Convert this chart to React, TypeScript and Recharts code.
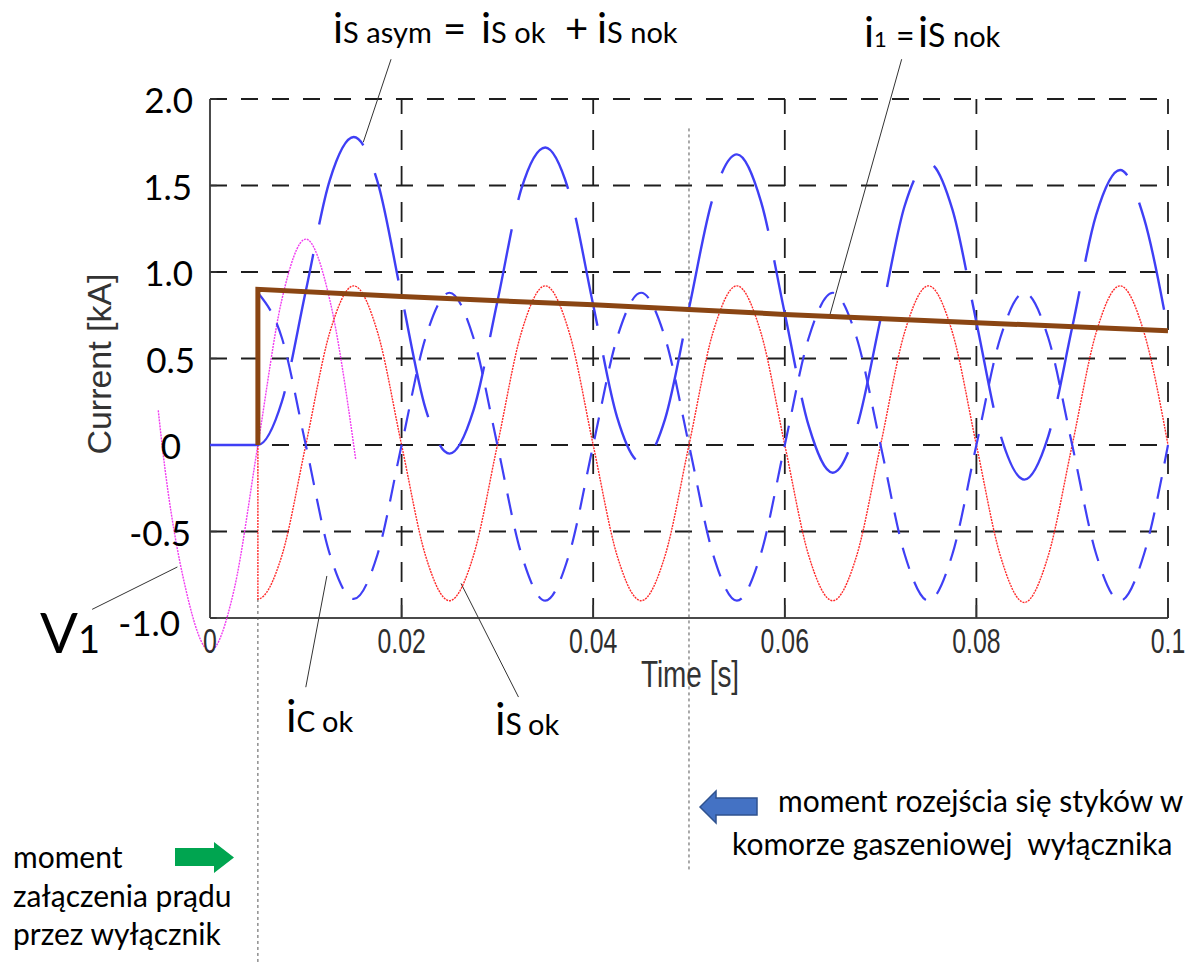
import { LineChart, Line, XAxis, YAxis, ReferenceLine } from 'recharts';

// time base (s) for the sampled current curves
const T = [
  0, 0.0025, 0.005, 0.0075, 0.01, 0.0125, 0.015, 0.0175, 0.02, 0.0225,
  0.025, 0.0275, 0.03, 0.0325, 0.035, 0.0375, 0.04, 0.0425, 0.045, 0.0475,
  0.05, 0.0525, 0.055, 0.0575, 0.06, 0.0625, 0.065, 0.0675, 0.07, 0.0725,
  0.075, 0.0775, 0.08, 0.0825, 0.085, 0.0875, 0.09, 0.0925, 0.095, 0.0975, 0.1,
];

// iS asym = iS ok + iS nok (kA), on T
const IS_ASYM = [
  0, 0, 0, 0.25, 0.89, 1.53, 1.78, 1.52, 0.86, 0.21,
  -0.05, 0.2, 0.83, 1.48, 1.72, 1.46, 0.81, 0.16, -0.1, 0.15,
  0.79, 1.43, 1.68, 1.41, 0.76, 0.11, -0.16, 0.1, 0.73, 1.38,
  1.63, 1.36, 0.71, 0.06, -0.2, 0.05, 0.68, 1.33, 1.59, 1.31, 0.66,
];

// iS ok (kA), on T from 0.005 s on
const IS_OK = [
  -0.89, -0.64, 0, 0.65, 0.92, 0.65, 0, -0.64,
  -0.9, -0.64, 0, 0.65, 0.92, 0.65, 0, -0.64,
  -0.9, -0.64, 0, 0.65, 0.92, 0.65, 0, -0.64,
  -0.9, -0.64, 0, 0.65, 0.92, 0.65, 0, -0.64,
  -0.91, -0.64, 0, 0.65, 0.92, 0.65, 0,
];

// iC ok (kA), on T from 0.005 s on
const IC_OK = [
  0.88, 0.62, 0, -0.63, -0.89, -0.63, 0, 0.62,
  0.88, 0.62, 0, -0.63, -0.9, -0.63, 0, 0.62,
  0.88, 0.62, 0, -0.63, -0.9, -0.63, 0, 0.62,
  0.88, 0.62, 0, -0.63, -0.9, -0.63, 0, 0.62,
  0.88, 0.62, 0, -0.63, -0.9, -0.63, 0,
];

// i1 = iS nok, the decaying DC part
const IS_NOK_T = [0.005, 0.005, 0.02, 0.04, 0.06, 0.08, 0.1];
const IS_NOK = [0, 0.9, 0.858, 0.81, 0.755, 0.707, 0.66];

// source voltage V1 (scaled)
const V1_T = [-0.0054, -0.005, -0.0025, 0, 0.0025, 0.005, 0.0075, 0.01, 0.0125, 0.015, 0.0152];
const V1 = [0.2, 0, -0.84, -1.19, -0.84, 0, 0.84, 1.19, 0.84, 0, -0.08];

const X_TICKS = [0, 0.02, 0.04, 0.06, 0.08, 0.1];
const X_TICK_LABELS = ['0', '0.02', '0.04', '0.06', '0.08', '0.1'];
const Y_TICKS = [2, 1.5, 1, 0.5, 0, -0.5, -1];
const Y_TICK_LABELS = ['2.0', '1.5', '1.0', '0.5', '0', '-0.5', '-1.0'];
const H_GRID = [2, 1.5, 1, 0.5, 0, -0.5];
const V_GRID = [0.02, 0.04, 0.06, 0.08, 0.1];

const SWITCH_ON = 0.005;
const CONTACTS_OPEN = 0.05;

const asymData = T.map((t, i) => ({ t, v: IS_ASYM[i] }));
const okData = T.slice(2).map((t, i) => ({ t, v: IS_OK[i] }));
okData.unshift({ t: SWITCH_ON, v: 0 });
const icData = T.slice(2).map((t, i) => ({ t, v: IC_OK[i] }));
const nokData = IS_NOK_T.map((t, i) => ({ t, v: IS_NOK[i] }));
const v1Data = V1_T.map((t, i) => ({ t, v: V1[i] }));

const W = 1197;
const H = 962;
const PLOT_BOTTOM = 652.6;
const CALIBRI = "Lato, 'Open Sans', sans-serif";
const MATLAB = "'Liberation Sans', Arial, sans-serif";

// right edge of each y label (they were placed by hand in the source)
const Y_LABEL_RIGHT: Record<string, number> = {
  '2': 193, '1.5': 192, '1': 193, '0.5': 195, '0': 181, '-0.5': 191, '-1': 180,
};

function XTick(props: any) {
  const { x, payload } = props;
  const label = X_TICK_LABELS[X_TICKS.indexOf(payload.value)];
  return (
    <g transform={`translate(${x},${PLOT_BOTTOM}) scale(0.71,1)`}>
      <text x={0} y={0} textAnchor="middle" fontFamily={MATLAB} fontSize={35} fill="#2e2e2e">
        {label}
      </text>
    </g>
  );
}

function YTick(props: any) {
  const { y, payload } = props;
  const label = Y_TICK_LABELS[Y_TICKS.indexOf(payload.value)];
  const right = Y_LABEL_RIGHT[String(payload.value)] ?? 193;
  return (
    <text
      x={right}
      y={y + (payload.value === -1 ? 4 : 0)}
      textAnchor="end"
      dominantBaseline="central"
      fontFamily={CALIBRI}
      fontSize={35}
      fill="#000"
    >
      {label}
    </text>
  );
}

const gridH = { stroke: '#1e1e1e', strokeWidth: 1.8, strokeDasharray: '17 14' };
const gridV = { stroke: '#1e1e1e', strokeWidth: 1.8, strokeDasharray: '20 16' };
const leader = { stroke: '#333', strokeWidth: 1 };

export default function App() {
  return (
    <div style={{ position: 'absolute', left: 0, top: 0, width: W, height: H, background: '#fff' }}>
      <LineChart
        width={W}
        height={H}
        margin={{ top: 99, right: 29, left: 97.3, bottom: 279.4 }}
      >
        <XAxis
          dataKey="t"
          type="number"
          domain={[-0.0055, 0.1]}
          ticks={X_TICKS}
          height={30}
          axisLine={false}
          tickLine={false}
          tick={<XTick />}
          interval={0}
        />
        <YAxis
          type="number"
          domain={[-1.2, 2]}
          ticks={Y_TICKS}
          width={60}
          axisLine={false}
          tickLine={false}
          tick={<YTick />}
          interval={0}
        />

        {H_GRID.map((v) => (
          <ReferenceLine key={`h${v}`} segment={[{ x: 0, y: v }, { x: 0.1, y: v }]} ifOverflow="visible" {...gridH} />
        ))}
        {V_GRID.map((t) => (
          <ReferenceLine key={`v${t}`} segment={[{ x: t, y: -1 }, { x: t, y: 2 }]} ifOverflow="visible" {...gridV} />
        ))}
        <ReferenceLine segment={[{ x: 0, y: -1 }, { x: 0, y: 2 }]} ifOverflow="visible" stroke="#4a4a4a" strokeWidth={2} />
        <ReferenceLine segment={[{ x: 0, y: -1 }, { x: 0.1, y: -1 }]} ifOverflow="visible" stroke="#4a4a4a" strokeWidth={2} />
        {V_GRID.map((t) => (
          <ReferenceLine key={`bt${t}`} segment={[{ x: t, y: -1 }, { x: t, y: -0.925 }]} ifOverflow="visible" stroke="#333" strokeWidth={1.5} />
        ))}
        {Y_TICKS.map((v) => (
          <ReferenceLine key={`lt${v}`} segment={[{ x: 0, y: v }, { x: 0.0007, y: v }]} ifOverflow="visible" stroke="#333" strokeWidth={1.5} />
        ))}

        {/* switching moments */}
        <ReferenceLine segment={[{ x: SWITCH_ON, y: -0.89 }, { x: SWITCH_ON, y: -2.99 }]} ifOverflow="visible" stroke="#555" strokeWidth={1} strokeDasharray="3 3" />
        <ReferenceLine segment={[{ x: CONTACTS_OPEN, y: 1.83 }, { x: CONTACTS_OPEN, y: -2.47 }]} ifOverflow="visible" stroke="#555" strokeWidth={1} strokeDasharray="3 3" />

        {/* leader lines to the labels */}
        <ReferenceLine segment={[{ x: 0.0189, y: 2.23 }, { x: 0.016, y: 1.75 }]} ifOverflow="visible" {...leader} />
        <ReferenceLine segment={[{ x: 0.0722, y: 2.23 }, { x: 0.0647, y: 0.75 }]} ifOverflow="visible" {...leader} />
        <ReferenceLine segment={[{ x: -0.0123, y: -0.95 }, { x: -0.0034, y: -0.705 }]} ifOverflow="visible" {...leader} />
        <ReferenceLine segment={[{ x: 0.0122, y: -0.757 }, { x: 0.01, y: -1.4 }]} ifOverflow="visible" {...leader} />
        <ReferenceLine segment={[{ x: 0.0262, y: -0.8 }, { x: 0.0322, y: -1.457 }]} ifOverflow="visible" {...leader} />

        <Line data={v1Data} dataKey="v" type="monotone" stroke="#f03cf0" strokeWidth={1.4} strokeDasharray="2 1" dot={false} activeDot={false} isAnimationActive={false} />
        <Line data={okData} dataKey="v" type="monotone" stroke="#ff2a2a" strokeWidth={1.4} strokeDasharray="2 1" dot={false} activeDot={false} isAnimationActive={false} />
        <Line data={icData} dataKey="v" type="monotone" stroke="#3f3ff5" strokeWidth={2.2} strokeDasharray="22 14" dot={false} activeDot={false} isAnimationActive={false} />
        <Line data={asymData} dataKey="v" type="monotone" stroke="#3f3ff5" strokeWidth={2.4} strokeDasharray="110 30" dot={false} activeDot={false} isAnimationActive={false} />
        <Line data={nokData} dataKey="v" type="linear" stroke="#8a4513" strokeWidth={5} dot={false} activeDot={false} isAnimationActive={false} />
      </LineChart>

      <svg width={W} height={H} style={{ position: 'absolute', left: 0, top: 0, pointerEvents: 'none' }}>
        {/* axis titles */}
        <g transform="translate(690,687) scale(0.745,1)">
          <text textAnchor="middle" fontFamily={MATLAB} fontSize={37.5} fill="#333">Time [s]</text>
        </g>
        <text
          transform="translate(111,364) rotate(-90)"
          textAnchor="middle"
          fontFamily={MATLAB}
          fontSize={33}
          fill="#333"
          textLength={181}
          lengthAdjust="spacingAndGlyphs"
        >
          Current [kA]
        </text>

        {/* top labels */}
        <text y={43} fontFamily={CALIBRI} fill="#000">
          <tspan x={333} fontSize={42}>i</tspan>
          <tspan fontSize={29}>S asym</tspan>
          <tspan x={443} fontSize={40}>=</tspan>
          <tspan x={481} fontSize={42}>i</tspan>
          <tspan fontSize={29}>S ok</tspan>
          <tspan x={565} fontSize={40}>+</tspan>
          <tspan x={597} fontSize={42}>i</tspan>
          <tspan fontSize={29}>S nok</tspan>
        </text>
        <text y={47} fontFamily={CALIBRI} fill="#000">
          <tspan x={864} fontSize={42}>i</tspan>
          <tspan fontSize={22}>1</tspan>
          <tspan x={896} fontSize={32}>=</tspan>
          <tspan x={918} fontSize={42}>i</tspan>
          <tspan fontSize={32}>S</tspan>
          <tspan x={953} fontSize={29}>nok</tspan>
        </text>

        {/* bottom labels */}
        <text y={732} fontFamily={CALIBRI} fill="#000">
          <tspan x={286} fontSize={44}>i</tspan>
          <tspan fontSize={28}>C</tspan>
          <tspan x={322} fontSize={29}>ok</tspan>
        </text>
        <text y={735} fontFamily={CALIBRI} fill="#000">
          <tspan x={495} fontSize={44}>i</tspan>
          <tspan fontSize={30}>S</tspan>
          <tspan x={528} fontSize={29}>ok</tspan>
        </text>
        <text y={653} fontFamily={CALIBRI} fill="#000">
          <tspan x={40} fontSize={56}>V</tspan>
          <tspan fontSize={38}>1</tspan>
        </text>

        {/* switching notes */}
        <text fontFamily={CALIBRI} fontSize={30} fill="#000">
          <tspan x={13} y={868}>moment</tspan>
          <tspan x={13} y={907}>załączenia prądu</tspan>
          <tspan x={13} y={945}>przez wyłącznik</tspan>
        </text>
        <polygon points="175,848 214,848 214,842 234,857.5 214,873 214,866 175,866" fill="#00a550" />

        <text fontFamily={CALIBRI} fontSize={30} fill="#000" style={{ whiteSpace: 'pre' }}>
          <tspan x={778} y={812}>moment rozejścia się styków w</tspan>
          <tspan x={732} y={855}>komorze gaszeniowej  wyłącznika</tspan>
        </text>
        <polygon points="700,807 716,791 716,798 757,798 757,815 716,815 716,823" fill="#4472c4" stroke="#2f528f" strokeWidth={1.5} />
      </svg>
    </div>
  );
}
